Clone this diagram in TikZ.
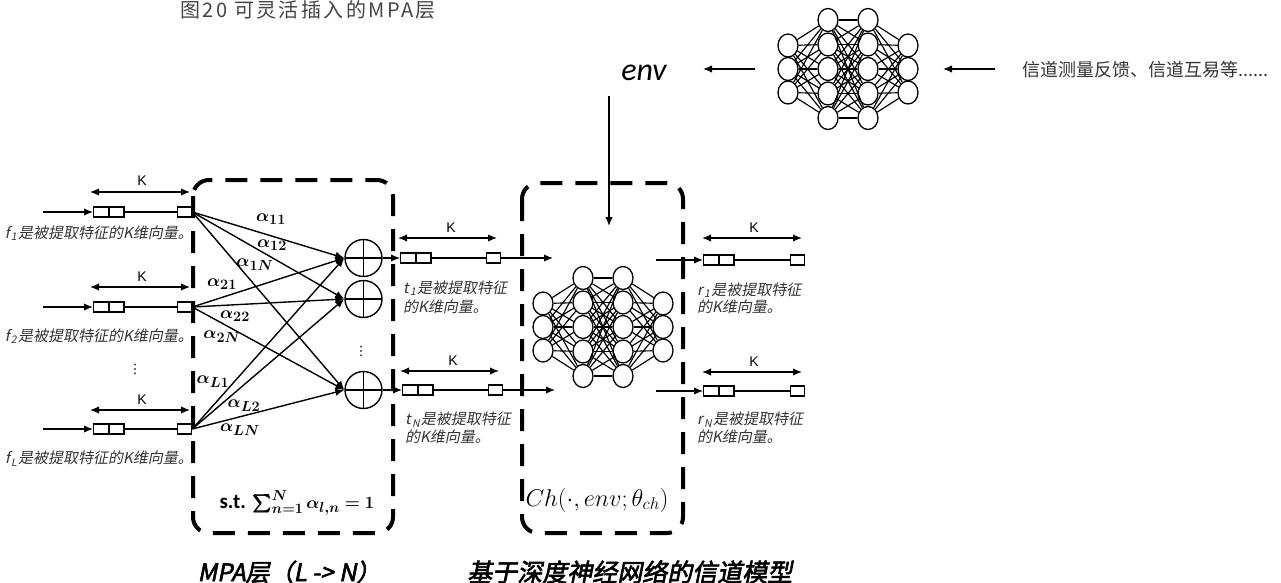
\documentclass[tikz,border=0pt]{standalone}
\usepackage{amsmath,bm}
\usepackage{graphicx}
\usepackage{fontspec}
\usetikzlibrary{arrows.meta,shapes.geometric}
\setmainfont{Liberation Sans}
\newfontfamily\cjk{Noto Sans CJK SC}
\newfontfamily\cjktitle{Noto Sans CJK SC}[LetterSpace=12]
\newfontfamily\cjkit{Noto Sans CJK SC}[FakeSlant=0.2]
\newfontfamily\cjkbi{Noto Sans CJK SC}[FakeSlant=0.2,FakeBold=2.5]
\newfontfamily\carl{Carlito}
\newfontfamily\dejavu{DejaVu Sans}
\definecolor{txtgray}{HTML}{333333}
\definecolor{titlegray}{HTML}{444444}
\newcommand\sub[1]{\kern1.2pt\textsubscript{#1}\kern0.8pt}
\tikzset{
  arr/.style={line width=1.4pt,-{Latex[length=9pt,width=7.5pt]}},
  darr/.style={line width=1.4pt,{Latex[length=9pt,width=7.5pt]}-{Latex[length=9pt,width=7.5pt]}},
  cell/.style={draw,line width=1.3pt,minimum width=14.5pt,minimum height=10pt,inner sep=0pt,anchor=west},
  neu/.style={ellipse,draw,line width=1.3pt,minimum width=20pt,minimum height=23pt,inner sep=0pt,fill=white},
  conn/.style={line width=1.15pt},
  sumn/.style={circle,draw,line width=1.4pt,minimum size=37pt,inner sep=0pt,
    path picture={\draw[line width=1.4pt] (path picture bounding box.north) -- (path picture bounding box.south)
      (path picture bounding box.west) -- (path picture bounding box.east);}},
  dbox/.style={line width=4pt,dash pattern=on 22pt off 13pt,rounded corners=16pt},
  klab/.style={font=\fontsize{14}{16}\selectfont,inner sep=0pt},
  desc/.style={font=\cjkit\fontsize{15}{17}\selectfont,text=txtgray,inner sep=0pt},
  alab/.style={font=\fontsize{19}{21}\selectfont,inner sep=0pt},
  vdot/.style={font=\dejavu\fontsize{13}{15}\selectfont,inner sep=0pt},
}
\newcommand\nnet[3]{%
  \foreach \i in {1,2,3}{\node[neu] (#1a\i) at ({#2-60},{#3+(\i-2)*23.5}) {};}
  \foreach \i in {1,...,5}{\node[neu] (#1b\i) at ({#2-20},{#3+(\i-3)*24.5}) {};}
  \foreach \i in {1,...,5}{\node[neu] (#1c\i) at ({#2+20},{#3+(\i-3)*24.5}) {};}
  \foreach \i in {1,2,3}{\node[neu] (#1d\i) at ({#2+60},{#3+(\i-2)*23.5}) {};}
  \foreach \i in {1,2,3}{\foreach \j in {1,...,5}{\draw[conn] (#1a\i) -- (#1b\j); \draw[conn] (#1d\i) -- (#1c\j);}}
  \foreach \i in {1,...,5}{\foreach \j in {1,...,5}{\draw[conn] (#1b\i) -- (#1c\j);}}
}
\newcommand\vrow[4]{%
  \node[cell] (#1a) at (#2,#3) {};
  \node[cell] (#1b) at (#1a.east) {};
  \node[cell,minimum width=14pt] (#1c) at (#4,#3) {};
  \draw[line width=1.2pt] (#1b) -- (#1c);
}
\newcommand\karrow[4]{%
  \coordinate (#1l) at (#2,#4); \coordinate (#1r) at (#3,#4);
  \draw[darr] (#1l) -- (#1r);
}
\begin{document}
\begin{tikzpicture}[x=1pt,y=-1pt]
\useasboundingbox (0,0) rectangle (1281,583);
% title
\node[font=\cjktitle\fontsize{20}{22}\selectfont,text=titlegray,anchor=west,inner sep=0pt] (title) at (180,10) {图20 可灵活插入的MPA层};
% top part
\nnet{T}{848}{69}
\node[font=\carl\itshape\fontsize{32}{36}\selectfont,inner sep=0pt] (env) at (644,73) {env};
\coordinate (ta1) at (755,69); \coordinate (ta2) at (703,69);
\draw[arr] (ta1) -- (ta2);
\coordinate (tb1) at (995,69); \coordinate (tb2) at (943,69);
\draw[arr] (tb1) -- (tb2);
\node[font=\cjk\fontsize{18}{20}\selectfont,text=txtgray,anchor=west,inner sep=0pt] (meas) at (1022,70) {信道测量反馈、信道互易等......};
\coordinate (envb) at (609,96); \coordinate (envt) at (609,226);
\draw[arr] (envb) -- (envt);
% dashed boxes
\draw[dbox] (193,180) rectangle (393,533);
\draw[dbox] (522,183) rectangle (683,533);
% inputs
\vrow{f1}{93}{212}{177}
\vrow{f2}{93}{307}{177}
\vrow{fL}{93}{429}{177}
\coordinate (f1in) at (43,212); \draw[arr] (f1in) -- (f1a);
\coordinate (f2in) at (43,307); \draw[arr] (f2in) -- (f2a);
\coordinate (fLin) at (43,429); \draw[arr] (fLin) -- (fLa);
\karrow{f1k}{90}{190}{192}
\karrow{f2k}{90}{190}{287}
\karrow{fLk}{90}{190}{410}
\node[klab] (f1K) at (142,181) {K};
\node[klab] (f2K) at (142,277) {K};
\node[klab] (fLK) at (142,400) {K};
\node[desc,anchor=east] (f1d) at (193,233) {f\sub{1}是被提取特征的K维向量。};
\node[desc,anchor=east] (f2d) at (193,336) {f\sub{2}是被提取特征的K维向量。};
\node[desc,anchor=east] (fLd) at (193,459) {f\sub{L}是被提取特征的K维向量。};
\node[vdot] (fdots) at (135,369) {⋮};
% sums
\node[sumn] (s1) at (363.5,258) {};
\node[sumn] (s2) at (363.5,299) {};
\node[sumn] (s3) at (363.5,390) {};
\node[vdot] (sdots) at (361,351) {⋮};
\foreach \r in {f1c,f2c,fLc}{\foreach \s in {s1,s2,s3}{\draw[arr] (\r.east) -- (\s.west);}}
% alpha labels
\node[alab] (a11) at (271,219) {$\bm{\alpha_{11}}$};
\node[alab] (a12) at (272,245) {$\bm{\alpha_{12}}$};
\node[alab] (a1N) at (255,265) {$\bm{\alpha_{1N}}$};
\node[alab] (a21) at (222,284) {$\bm{\alpha_{21}}$};
\node[alab] (a22) at (235,316) {$\bm{\alpha_{22}}$};
\node[alab] (a2N) at (222,337) {$\bm{\alpha_{2N}}$};
\node[alab] (aL1) at (213,382) {$\bm{\alpha_{L1}}$};
\node[alab] (aL2) at (244,406) {$\bm{\alpha_{L2}}$};
\node[alab] (aLN) at (240,430) {$\bm{\alpha_{LN}}$};
\node[font=\fontsize{19}{22}\selectfont,inner sep=0pt] (st) at (297,503) {{\carl\bfseries\fontsize{21}{22}\selectfont s.t.} $\bm{\sum_{n=1}^{N}\alpha_{l,n}=1}$};
% t rows
\vrow{t1}{400}{258}{486}
\vrow{tN}{402}{390}{488}
\draw[arr] (s1.east) -- (t1a);
\draw[arr] (s3.east) -- (tNa);
\coordinate (t1o) at (553,258); \draw[arr] (t1c) -- (t1o);
\coordinate (tNo) at (555,390); \draw[arr] (tNc) -- (tNo);
\karrow{t1k}{398}{497}{238}
\karrow{tNk}{400}{499}{371}
\node[klab] (t1K) at (451,228) {K};
\node[klab] (tNK) at (453,361) {K};
\node[desc,anchor=west] (t1d1) at (403,288) {t\sub{1}是被提取特征};
\node[desc,anchor=west] (t1d2) at (403,307) {的K维向量。};
\node[desc,anchor=west] (tNd1) at (405,420) {t\sub{N}是被提取特征};
\node[desc,anchor=west] (tNd2) at (405,437) {的K维向量。};
% channel NN
\nnet{C}{603}{327}
\node[inner sep=0pt] (ch) at (597,500) {\resizebox{143pt}{!}{\fontsize{20}{24}\selectfont$Ch(\cdot,env;\theta_{ch})$}};
% r rows
\vrow{r1}{703}{260}{790}
\vrow{rN}{703}{391}{790}
\coordinate (r1s) at (656,260); \draw[arr] (r1s) -- (r1a);
\coordinate (rNs) at (656,391); \draw[arr] (rNs) -- (rNa);
\karrow{r1k}{702}{802}{238}
\karrow{rNk}{702}{802}{372}
\node[klab] (r1K) at (754,228) {K};
\node[klab] (rNK) at (754,362) {K};
\node[desc,anchor=west] (r1d1) at (697,290) {r\sub{1}是被提取特征};
\node[desc,anchor=west] (r1d2) at (697,307) {的K维向量。};
\node[desc,anchor=west] (rNd1) at (697,420) {r\sub{N}是被提取特征};
\node[desc,anchor=west] (rNd2) at (697,437) {的K维向量。};
% bottom labels
\node[font=\cjkbi\fontsize{24}{28}\selectfont,inner sep=0pt] (lab1) at (289,572) {MPA层（L -> N）};
\node[font=\cjkbi\fontsize{25}{28}\selectfont,anchor=west,inner sep=0pt] (lab2) at (467,572) {基于深度神经网络的信道模型};
\end{tikzpicture}
\end{document}
